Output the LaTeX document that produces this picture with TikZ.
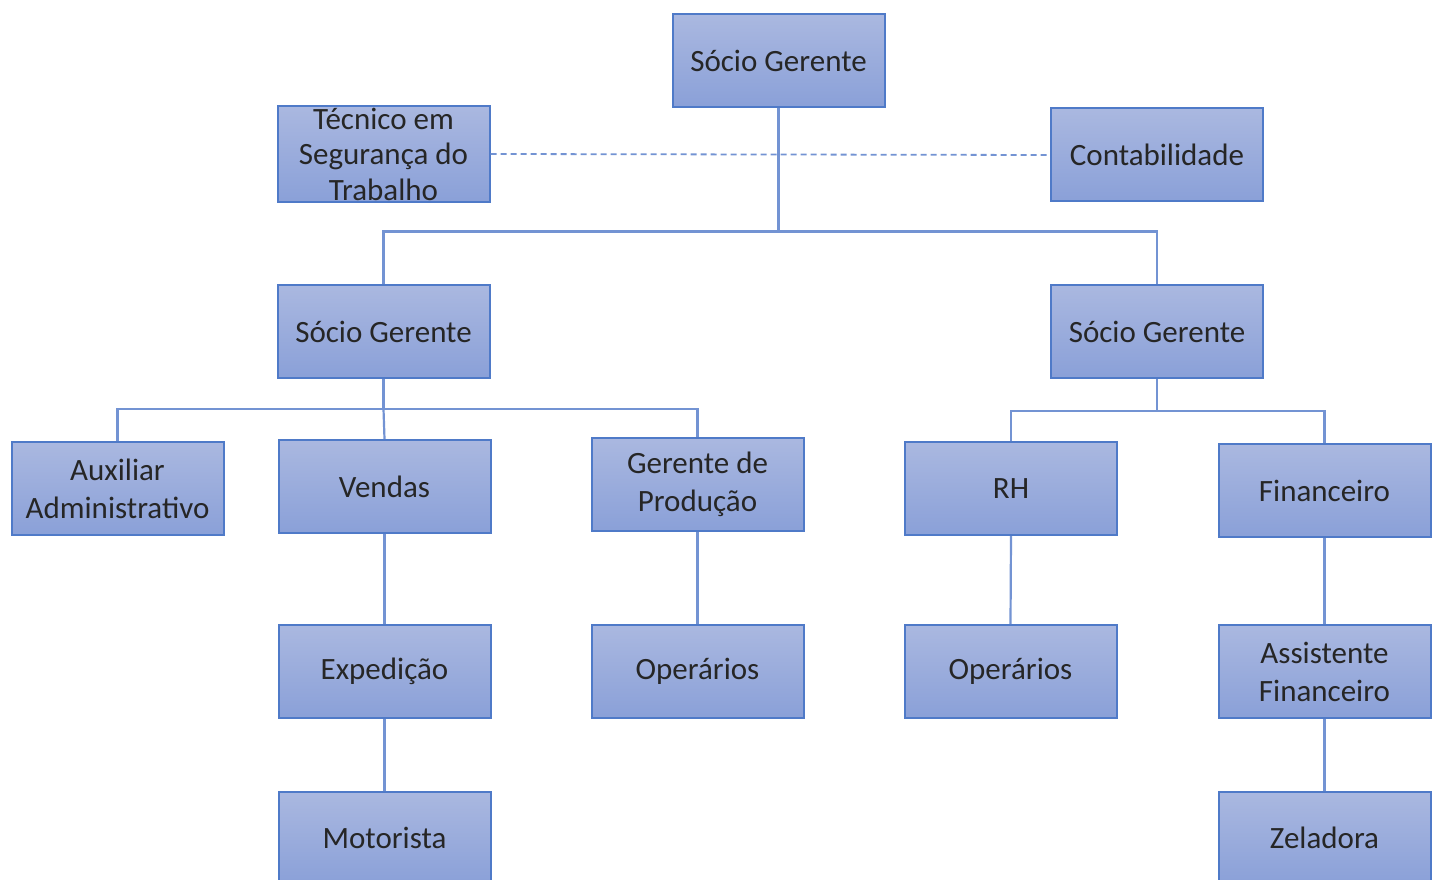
\documentclass[tikz,border=0pt]{standalone}
\usepackage{fontspec}
\setmainfont{Carlito}
\usetikzlibrary{positioning}
\definecolor{boxtop}{HTML}{AAB8E0}
\definecolor{boxbot}{HTML}{8AA0D8}
\definecolor{boxline}{HTML}{4F7AC8}
\definecolor{conn}{HTML}{7393D3}
\definecolor{txt}{HTML}{262626}
\tikzset{
  org/.style={draw=boxline, line width=2pt, top color=boxtop, bottom color=boxbot,
    minimum width=212pt, minimum height=93pt, inner sep=2pt, align=center,
    text=txt, font=\fontsize{31}{38}\selectfont},
  tight/.style={font=\fontsize{31}{35.5}\selectfont},
  link/.style={draw=conn, line width=2.2pt},
  dlink/.style={draw=conn, line width=1.8pt, dash pattern=on 6pt off 4pt},
}
\begin{document}
\begin{tikzpicture}[x=1pt,y=-1pt]
\clip (0,0) rectangle (1436,880);
\useasboundingbox (0,0) rectangle (1436,880);
% nodes
\node[org] (top) at (778.5,61) {Sócio Gerente};
\node[org,tight] (tec) at (383.5,154) {Técnico em\\Segurança do\\Trabalho};
\node[org] (cont) at (1157,155) {Contabilidade};
\node[org] (sgl) at (383.5,331.5) {Sócio Gerente};
\node[org] (sgr) at (1157,331.5) {Sócio Gerente};
\node[org] (aux) at (117.5,488.5) {Auxiliar\\Administrativo};
\node[org] (ven) at (384.5,486.5) {Vendas};
\node[org] (gp) at (697.5,484.5) {Gerente de\\Produção};
\node[org] (rh) at (1011,488.5) {RH};
\node[org] (fin) at (1324.5,490.5) {Financeiro};
\node[org] (exp) at (384.5,671.5) {Expedição};
\node[org] (op1) at (697.5,671.5) {Operários};
\node[org] (op2) at (1010.5,671.5) {Operários};
\node[org] (ass) at (1324.5,671.5) {Assistente\\Financeiro};
\node[org] (mot) at (384.5,838) {Motorista};
\node[org] (zel) at (1324.5,838) {Zeladora};
% connectors
\draw[dlink] (tec.east) -- (cont.west);
\draw[link] (top.south) -- ++(0,123) coordinate (hA);
\draw[link] (sgl.north) |- (hA) -| (sgr.north);
\draw[link] (sgl.south) -- ++(0,30) coordinate (hB);
\draw[link] (aux.north) |- (hB) -| (gp.north);
\draw[link] (hB) -- (ven.north);
\draw[link] (sgr.south) -- ++(0,32) coordinate (hC);
\draw[link] (rh.north) |- (hC) -| (fin.north);
\draw[link] (ven.south) -- (exp.north);
\draw[link] (exp.south) -- (mot.north);
\draw[link] (gp.south) -- (op1.north);
\draw[link] (rh.south) -- (op2.north);
\draw[link] (fin.south) -- (ass.north);
\draw[link] (ass.south) -- (zel.north);
\end{tikzpicture}
\end{document}
